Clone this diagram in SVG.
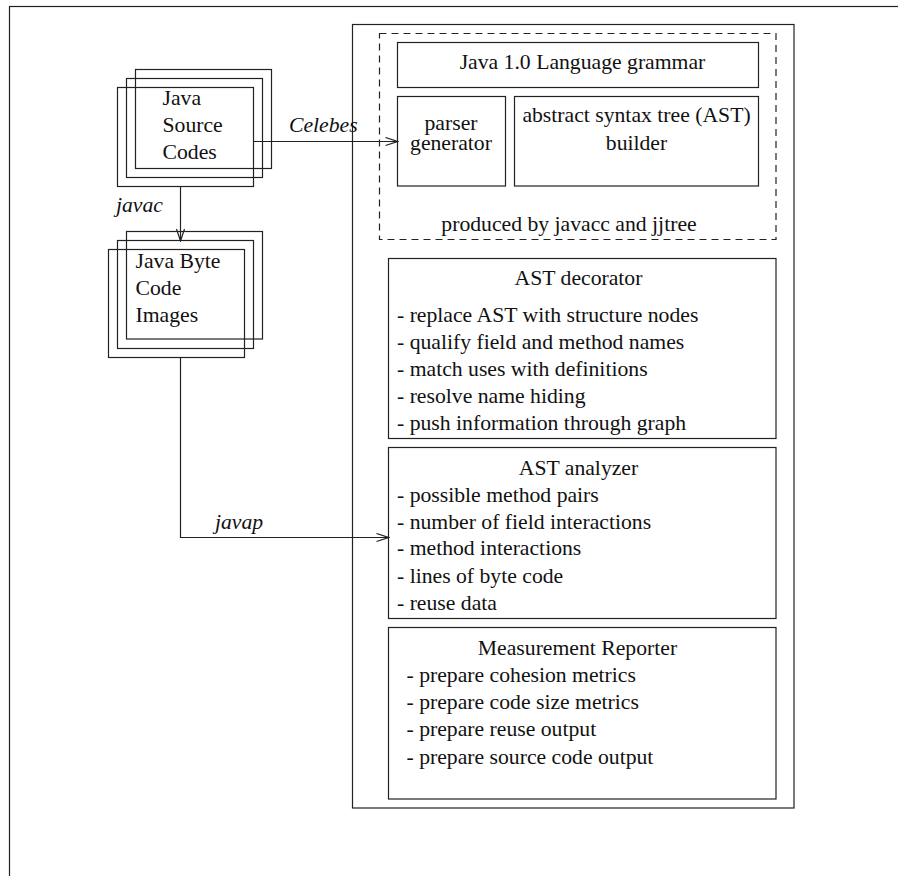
<svg xmlns="http://www.w3.org/2000/svg" width="898" height="876" viewBox="0 0 898 876">
<defs>
<style>
.box{fill:none;stroke:#222;stroke-width:1.2}
.dash{fill:none;stroke:#222;stroke-width:1.2;stroke-dasharray:7,5}
.ln{fill:none;stroke:#222;stroke-width:1.2}
text{font-family:"Liberation Serif","Times New Roman",serif;font-size:21.7px;fill:#111}
.it{font-style:italic}
.c{text-anchor:middle}
</style>
<marker id="arr" markerWidth="14" markerHeight="10" refX="13" refY="5" orient="auto" markerUnits="userSpaceOnUse">
<path d="M1,1 L13,5 L1,9" fill="none" stroke="#222" stroke-width="1.2"/>
</marker>
</defs>
<rect width="898" height="876" fill="#fff"/>
<g id="frame"><rect class="box" x="9.5" y="6.5" width="900" height="880"/></g>
<g id="system"><rect class="box" x="352.5" y="24.5" width="441.5" height="783.5"/></g>
<g id="source">
<rect class="box" x="135.5" y="69.5" width="136" height="99" fill="#fff"/>
<rect class="box" x="126.5" y="78.5" width="136" height="99"/>
<rect class="box" x="117.5" y="87.5" width="136" height="99"/>
<text x="162.5" y="105">Java</text>
<text x="162.5" y="132">Source</text>
<text x="162.5" y="159">Codes</text>
</g>
<g id="bytecode">
<rect class="box" x="126.5" y="231.5" width="136" height="107.5"/>
<rect class="box" x="117.5" y="240.5" width="136" height="108"/>
<rect class="box" x="108.5" y="249.5" width="136" height="108"/>
<text x="135.5" y="268">Java Byte</text>
<text x="135.5" y="295">Code</text>
<text x="135.5" y="322">Images</text>
</g>
<g id="javacc">
<rect class="dash" x="379.5" y="33.5" width="396.5" height="206"/>
<text class="c" x="569" y="231">produced by javacc and jjtree</text>
</g>
<g id="grammar">
<rect class="box" x="397.5" y="42.5" width="361" height="45"/>
<text class="c" x="582.5" y="69">Java 1.0 Language grammar</text>
</g>
<g id="parser">
<rect class="box" x="397.5" y="96.5" width="108" height="89.5"/>
<text class="c" x="451" y="130">parser</text>
<text class="c" x="451" y="149.5">generator</text>
</g>
<g id="builder">
<rect class="box" x="514.5" y="96.5" width="244" height="89.5"/>
<text class="c" x="636.5" y="122">abstract syntax tree (AST)</text>
<text class="c" x="636.5" y="150">builder</text>
</g>
<g id="decorator">
<rect class="box" x="388.5" y="258.5" width="387.5" height="180"/>
<text class="c" x="578.5" y="285">AST decorator</text>
<text x="397" y="322">- replace AST with structure nodes</text>
<text x="397" y="349">- qualify field and method names</text>
<text x="397" y="376">- match uses with definitions</text>
<text x="397" y="403">- resolve name hiding</text>
<text x="397" y="430">- push information through graph</text>
</g>
<g id="analyzer">
<rect class="box" x="388.5" y="447.5" width="387.5" height="171"/>
<text class="c" x="578.5" y="475">AST analyzer</text>
<text x="397" y="502">- possible method pairs</text>
<text x="397" y="528.5">- number of field interactions</text>
<text x="397" y="555">- method interactions</text>
<text x="397" y="582.5">- lines of byte code</text>
<text x="397" y="609.5">- reuse data</text>
</g>
<g id="reporter">
<rect class="box" x="388.5" y="627.5" width="387.5" height="171.5"/>
<text class="c" x="577.5" y="655">Measurement Reporter</text>
<text x="406.5" y="682">- prepare cohesion metrics</text>
<text x="406.5" y="709">- prepare code size metrics</text>
<text x="406.5" y="736">- prepare reuse output</text>
<text x="406.5" y="763.5">- prepare source code output</text>
</g>
<g id="connectors">
<path class="ln" d="M253.5,141.5 H397.5" marker-end="url(#arr)"/>
<text class="it" x="289" y="132">Celebes</text>
<path class="ln" d="M180.5,186.5 V241" marker-end="url(#arr)"/>
<text class="it" x="116" y="212">javac</text>
<path class="ln" d="M180.5,357.5 V537.5 H388.5" marker-end="url(#arr)"/>
<text class="it" x="215" y="529">javap</text>
</g>
</svg>
